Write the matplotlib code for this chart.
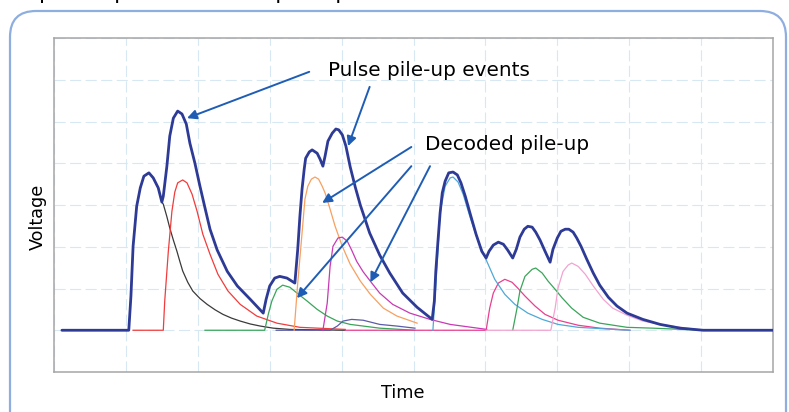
import numpy as np
import matplotlib.pyplot as plt
from matplotlib.patches import FancyBboxPatch
from matplotlib.transforms import IdentityTransform

# measured signal (sum of pulses), x = time, y = voltage
total_t = [0.11, 1.04, 1.07, 1.10, 1.15, 1.20, 1.25, 1.32, 1.38, 1.45, 1.50, 1.52, 1.57, 1.61,
           1.66, 1.72, 1.78, 1.84, 1.89, 1.96, 2.03, 2.10, 2.17, 2.27, 2.41, 2.55, 2.73, 2.91,
           2.95, 3.00, 3.07, 3.14, 3.24, 3.35, 3.39, 3.42, 3.45, 3.48, 3.50, 3.55, 3.59, 3.66,
           3.70, 3.74, 3.77, 3.81, 3.87, 3.92, 3.96, 4.01, 4.06, 4.12, 4.19, 4.26, 4.33, 4.39,
           4.53, 4.67, 4.85, 5.05, 5.26, 5.29, 5.31, 5.34, 5.37, 5.40, 5.44, 5.49, 5.55, 5.61,
           5.66, 5.72, 5.79, 5.87, 5.95, 6.01, 6.05, 6.11, 6.18, 6.25, 6.31, 6.38, 6.43, 6.48,
           6.54, 6.59, 6.65, 6.70, 6.76, 6.83, 6.90, 6.94, 7.00, 7.05, 7.11, 7.16, 7.22, 7.27,
           7.33, 7.41, 7.50, 7.59, 7.71, 7.83, 7.97, 8.19, 8.43, 8.71, 9.03, 10.0]
total_v = [0, 0, 0.82, 2.01, 2.97, 3.41, 3.69, 3.77, 3.65, 3.41, 3.07, 3.21, 3.93, 4.65,
           5.08, 5.25, 5.18, 4.94, 4.48, 4.00, 3.45, 2.93, 2.42, 1.92, 1.41, 1.06, 0.74, 0.41,
           0.74, 1.06, 1.25, 1.29, 1.25, 1.13, 1.94, 2.73, 3.38, 3.86, 4.12, 4.27, 4.32, 4.24,
           4.10, 3.93, 4.17, 4.53, 4.72, 4.82, 4.80, 4.68, 4.41, 3.91, 3.43, 3.00, 2.64, 2.33,
           1.80, 1.37, 0.89, 0.55, 0.26, 0.70, 1.41, 2.13, 2.81, 3.29, 3.57, 3.77, 3.79, 3.72,
           3.53, 3.21, 2.78, 2.30, 1.89, 1.73, 1.89, 2.04, 2.11, 2.06, 1.92, 1.73, 1.94, 2.23,
           2.42, 2.49, 2.47, 2.35, 2.16, 1.89, 1.63, 1.94, 2.21, 2.37, 2.42, 2.42, 2.35, 2.21,
           2.01, 1.70, 1.37, 1.08, 0.79, 0.58, 0.41, 0.26, 0.14, 0.05, 0, 0]

# decoded individual pulses
black_t = [1.04, 1.07, 1.10, 1.15, 1.20, 1.25, 1.32, 1.38, 1.45, 1.50, 1.52, 1.57, 1.61, 1.66,
           1.71, 1.75, 1.79, 1.86, 1.93, 2.03, 2.13, 2.24, 2.35, 2.47, 2.59, 2.73, 2.87, 3.05,
           3.28, 4.05]
black_v = [0, 0.82, 2.01, 2.97, 3.41, 3.69, 3.77, 3.65, 3.41, 3.07, 3.02, 2.72, 2.45, 2.16,
           1.89, 1.65, 1.42, 1.15, 0.94, 0.76, 0.62, 0.49, 0.38, 0.29, 0.22, 0.15, 0.10, 0.05,
           0.02, 0]

red_t = [1.10, 1.52, 1.54, 1.59, 1.64, 1.68, 1.72, 1.79, 1.85, 1.92, 1.99, 2.07, 2.17, 2.28,
         2.42, 2.59, 2.82, 3.10, 3.42, 4.05]
red_v = [0, 0, 0.70, 1.89, 2.85, 3.31, 3.53, 3.60, 3.53, 3.26, 2.85, 2.30, 1.82, 1.34,
         0.94, 0.62, 0.34, 0.17, 0.07, 0.02]

green1_t = [2.10, 2.93, 2.98, 3.03, 3.10, 3.18, 3.28, 3.38, 3.52, 3.66, 3.80, 3.94, 4.12, 4.53, 5.02]
green1_v = [0, 0, 0.38, 0.70, 0.98, 1.08, 1.03, 0.89, 0.70, 0.50, 0.34, 0.22, 0.14, 0.05, 0]

orange_t = [3.34, 3.39, 3.45, 3.49, 3.53, 3.58, 3.63, 3.68, 3.73, 3.77, 3.84, 3.91, 4.01, 4.12,
            4.26, 4.40, 4.58, 4.77, 5.05]
orange_v = [0, 1.13, 2.33, 3.14, 3.45, 3.62, 3.67, 3.62, 3.45, 3.29, 2.90, 2.49, 2.01, 1.58,
            1.18, 0.86, 0.53, 0.34, 0.17]

magenta_t = [3.74, 3.80, 3.84, 3.88, 3.95, 4.01, 4.08, 4.14, 4.21, 4.30, 4.42, 4.53, 4.71,
             4.95, 5.23, 5.51, 6.02]
magenta_v = [0, 0.65, 1.53, 2.01, 2.21, 2.23, 2.13, 1.92, 1.65, 1.40, 1.13, 0.89, 0.62,
             0.41, 0.26, 0.14, 0.02]

navy_t = [3.09, 3.84, 3.94, 4.02, 4.14, 4.30, 4.53, 4.77, 5.02]
navy_v = [0, 0, 0.10, 0.22, 0.26, 0.24, 0.14, 0.10, 0.05]

cyan_t = [5.27, 5.33, 5.37, 5.44, 5.51, 5.55, 5.62, 5.69, 5.79, 5.90, 6.02, 6.13, 6.27, 6.41,
          6.59, 6.79, 7.01, 7.29, 8.01]
cyan_v = [0, 1.61, 2.81, 3.45, 3.65, 3.67, 3.55, 3.26, 2.69, 2.13, 1.65, 1.22, 0.86, 0.62,
          0.41, 0.26, 0.14, 0.07, 0]

pink_t = [4.05, 6.01, 6.06, 6.11, 6.18, 6.27, 6.37, 6.45, 6.55, 6.69, 6.83, 7.01, 7.29, 7.59, 8.01]
pink_v = [0, 0, 0.53, 0.89, 1.13, 1.22, 1.15, 1.01, 0.82, 0.58, 0.38, 0.24, 0.12, 0.05, 0]

green2_t = [6.38, 6.44, 6.48, 6.55, 6.65, 6.70, 6.79, 6.87, 6.97, 7.07, 7.20, 7.36, 7.59,
            7.97, 8.33, 9.03]
green2_v = [0, 0.53, 0.94, 1.29, 1.46, 1.49, 1.37, 1.18, 0.98, 0.77, 0.53, 0.31, 0.17,
            0.07, 0.05, 0]

lpink_t = [6.01, 6.91, 6.97, 7.01, 7.08, 7.15, 7.20, 7.29, 7.39, 7.50, 7.64, 7.77, 7.97,
           8.19, 8.43, 8.71, 9.03]
lpink_v = [0, 0, 0.53, 1.01, 1.41, 1.56, 1.61, 1.53, 1.34, 1.06, 0.74, 0.53, 0.36,
           0.22, 0.14, 0.07, 0]

# annotation arrows: (text tail) -> (head)
label_events = 'Pulse pile-up events'
label_decoded = 'Decoded pile-up'
events_arrows = [((3.55, 6.19), (1.85, 5.08)), ((4.39, 5.83), (4.09, 4.41))]
decoded_arrows = [((4.97, 4.39), (3.73, 3.05)), ((4.97, 3.93), (3.38, 0.77)), ((5.23, 3.93), (4.40, 1.15))]

fig = plt.figure(figsize=(7.89, 4.12), dpi=100)
ax = fig.add_axes([54 / 789, 40 / 412, 719 / 789, 334 / 412])

thin = 0.9
ax.plot(black_t, black_v, color='#3a3a3a', lw=thin, zorder=2)
ax.plot(red_t, red_v, color='#f03c3c', lw=thin, zorder=2)
ax.plot(green1_t, green1_v, color='#3aa55a', lw=thin, zorder=2)
ax.plot(navy_t, navy_v, color='#5b5ba8', lw=thin, zorder=2)
ax.plot(orange_t, orange_v, color='#f7a060', lw=thin, zorder=2)
ax.plot(pink_t, pink_v, color='#e8408f', lw=thin, zorder=2)
ax.plot(magenta_t, magenta_v, color='#c83ab4', lw=thin, zorder=2)
ax.plot(cyan_t, cyan_v, color='#4fa8d8', lw=thin, zorder=2)
ax.plot(green2_t, green2_v, color='#3aa55a', lw=thin, zorder=2)
ax.plot(lpink_t, lpink_v, color='#f3a3d0', lw=thin, zorder=2)
ax.plot(total_t, total_v, color='#2e3b96', lw=2.0, zorder=3,
        solid_joinstyle='round', solid_capstyle='round')

arrow_color = '#1f5db5'
for tail, head in events_arrows + decoded_arrows:
    ax.annotate('', xy=head, xytext=tail,
                arrowprops=dict(arrowstyle='-|>', color=arrow_color, lw=1.4,
                                mutation_scale=14, shrinkA=0, shrinkB=0), zorder=4)
ax.text(3.81, 6.23, label_events, fontsize=14.4, va='center', ha='left')
ax.text(5.16, 4.46, label_decoded, fontsize=14.4, va='center', ha='left')

ax.set_xlim(0, 10)
ax.set_ylim(-1, 7)
ax.set_xticks(np.arange(0, 11))
ax.set_yticks(np.arange(-1, 8))
ax.tick_params(length=0, labelleft=False, labelbottom=False)
ax.grid(True, color='#d8e8f2', lw=0.8, linestyle=(0, (10, 4)))
ax.set_axisbelow(True)
for s in ax.spines.values():
    s.set_color('#a6a6a6')
    s.set_linewidth(1.1)

fig.text(38 / 789, 1 - 217 / 412, 'Voltage', rotation=90, fontsize=12.7, ha='center', va='center')
fig.text(403 / 789, 1 - 393 / 412, 'Time', fontsize=12.7, ha='center', va='center')

# rounded panel frame and the heading above it (cut by the top edge, as in the source)
box = FancyBboxPatch((10, -60), 776, 461, boxstyle='round,pad=0,rounding_size=26',
                     transform=IdentityTransform(), facecolor='none',
                     edgecolor='#8eaee0', lw=1.6)
fig.add_artist(box)
fig.text(22 / 789, 1 + 1 / 412, 'Optimal pulse decodes pile-up', fontsize=15.5,
         ha='left', va='baseline')

fig.savefig('out.png', dpi=100)
